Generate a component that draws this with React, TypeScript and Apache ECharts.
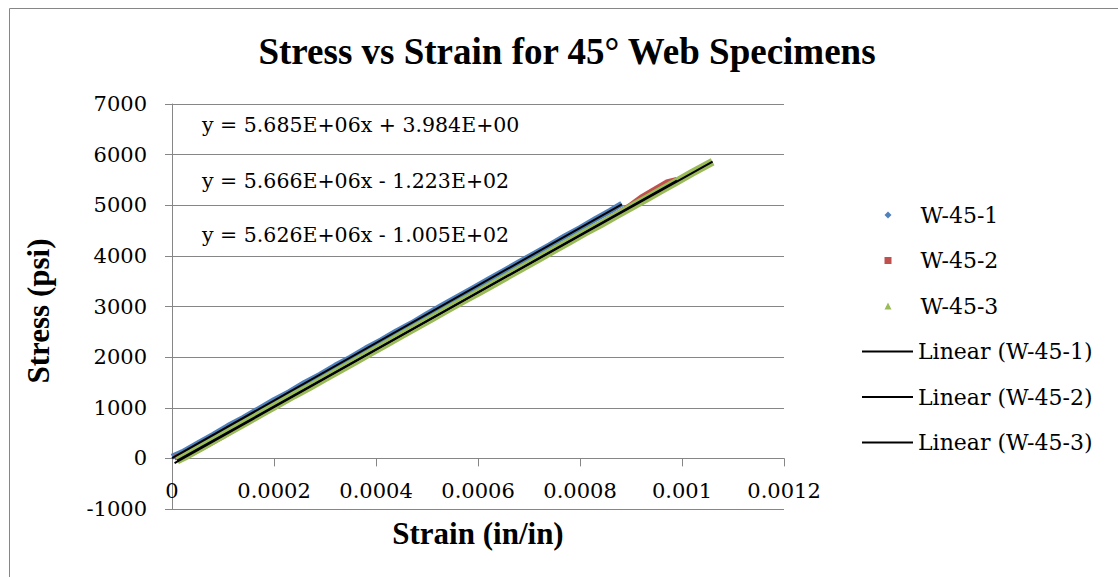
import React, { useEffect, useRef } from "react";
import * as echarts from "echarts";

// ---------- data ----------
const seriesNames = ["W-45-1", "W-45-2", "W-45-3"];
const trendNames = ["Linear (W-45-1)", "Linear (W-45-2)", "Linear (W-45-3)"];

const strain1 = [0, 0.00002, 0.00005, 0.00008, 0.00011, 0.00014, 0.00017, 0.0002, 0.00023, 0.00026, 0.00029, 0.00032, 0.00035, 0.00038, 0.00041, 0.00044, 0.00047, 0.0005, 0.00053, 0.00056, 0.00059, 0.00062, 0.00065, 0.00068, 0.00071, 0.00074, 0.00077, 0.0008, 0.00083, 0.00086, 0.000882];
const stress1 = [30, 120, 290, 460, 640, 800, 975, 1150, 1310, 1490, 1650, 1830, 1990, 2170, 2330, 2510, 2670, 2850, 3020, 3190, 3360, 3530, 3700, 3870, 4040, 4210, 4385, 4550, 4725, 4895, 5030];

const strain2 = [0.000005, 0.00002, 0.00004, 0.00007, 0.0001, 0.00013, 0.00016, 0.00019, 0.00022, 0.00025, 0.00028, 0.00031, 0.00034, 0.00037, 0.0004, 0.00043, 0.00046, 0.00049, 0.00052, 0.00055, 0.00058, 0.00061, 0.00064, 0.00067, 0.0007, 0.00073, 0.00076, 0.00079, 0.00082, 0.00085, 0.00088, 0.0009, 0.00092, 0.00095, 0.00097, 0.00099];
const stress2 = [20, 40, 110, 270, 440, 620, 790, 960, 1130, 1300, 1470, 1640, 1810, 1980, 2150, 2320, 2490, 2660, 2830, 3000, 3170, 3340, 3500, 3680, 3850, 4010, 4180, 4350, 4520, 4690, 4870, 5000, 5150, 5330, 5450, 5500];

const strain3 = [0.00001, 0.00003, 0.00006, 0.00009, 0.00012, 0.00015, 0.00018, 0.00021, 0.00024, 0.00027, 0.0003, 0.00033, 0.00036, 0.00039, 0.00042, 0.00045, 0.00048, 0.00051, 0.00054, 0.00057, 0.0006, 0.00063, 0.00066, 0.00069, 0.00072, 0.00075, 0.00078, 0.00081, 0.00084, 0.00087, 0.0009, 0.00093, 0.00096, 0.00099, 0.00102, 0.00106];
const stress3 = [-40, 60, 230, 400, 570, 740, 910, 1080, 1250, 1410, 1580, 1750, 1920, 2090, 2260, 2430, 2600, 2770, 2940, 3110, 3270, 3440, 3610, 3780, 3950, 4120, 4290, 4460, 4620, 4790, 4960, 5130, 5300, 5470, 5640, 5860];

const trendSlopes = [5.685e6, 5.666e6, 5.626e6];
const trendIntercepts = [3.984, -122.3, -100.5];
const equationLabels = [
  "y = 5.685E+06x + 3.984E+00",
  "y = 5.666E+06x - 1.223E+02",
  "y = 5.626E+06x - 1.005E+02",
];

const xMin = 0, xMax = 0.0012, xStep = 0.0002;
const yMin = -1000, yMax = 7000, yStep = 1000;

const colors = ["#4F81BD", "#C0504D", "#9BBB59"];
const bandWidths = [6, 6, 8];
const icons = ["diamond", "rect", "triangle"];
const BOLD_FONT = "Liberation Serif";
const TEXT_FONT = "DejaVu Serif";
const GRID = "#868686";

export default function App() {
  const ref = useRef<HTMLDivElement>(null);
  useEffect(() => {
    if (!ref.current) return;
    const chart = echarts.init(ref.current, undefined, { renderer: "svg" });
    const strains = [strain1, strain2, strain3];
    const stresses = [stress1, stress2, stress3];

    const dataSeries = seriesNames.map((name, i) => ({
      name,
      type: "line",
      data: strains[i].map((x, k) => [x, stresses[i][k]]),
      symbol: "none",
      lineStyle: { width: bandWidths[i], color: colors[i] },
      itemStyle: { color: colors[i] },
      z: 2 + i,
      silent: true,
    }));
    const trendSeries = trendNames.map((name, i) => {
      const xs = strains[i];
      const x0 = Math.min(...xs), x1 = Math.max(...xs);
      return {
        name,
        type: "line",
        data: [x0, x1].map((x) => [x, trendSlopes[i] * x + trendIntercepts[i]]),
        symbol: "none",
        lineStyle: { width: 2, color: "#000" },
        itemStyle: { color: "#000" },
        z: 10,
        silent: true,
      };
    });

    const legendText = { fontFamily: TEXT_FONT, fontSize: 22, color: "#000", lineHeight: 26 };

    chart.setOption({
      animation: false,
      textStyle: { fontFamily: TEXT_FONT },
      title: {
        text: "Stress vs Strain for 45° Web Specimens",
        left: 562,
        top: 28,
        textAlign: "center",
        textStyle: { fontFamily: BOLD_FONT, fontSize: 37, fontWeight: "bold", color: "#000" },
      },
      grid: { left: 172, right: 334, top: 104, bottom: 68, containLabel: false },
      xAxis: {
        type: "value",
        min: xMin,
        max: xMax,
        interval: xStep,
        axisLine: { show: true, onZero: true, lineStyle: { color: GRID, width: 1 } },
        axisTick: { show: true, length: 8, lineStyle: { color: GRID } },
        splitLine: { show: false },
        axisLabel: {
          margin: -29,
          fontSize: 21,
          color: "#000",
          fontFamily: TEXT_FONT,
          formatter: (v: number) => String(+v.toPrecision(6)),
        },
      },
      yAxis: {
        type: "value",
        min: yMin,
        max: yMax,
        interval: yStep,
        axisLine: { show: true, onZero: false, lineStyle: { color: GRID, width: 1 } },
        axisTick: { show: true, length: 7, lineStyle: { color: GRID } },
        splitLine: { show: true, lineStyle: { color: GRID, width: 1 } },
        axisLabel: {
          margin: 25,
          fontSize: 21,
          color: "#000",
          fontFamily: TEXT_FONT,
          formatter: (v: number) => String(v),
        },
      },
      legend: [
        {
          orient: "vertical",
          left: 884.5,
          top: 202,
          padding: 0,
          itemWidth: 7,
          itemHeight: 7,
          itemGap: 19.5,
          selectedMode: false,
          textStyle: { ...legendText, padding: [0, 0, 0, 24] },
          data: seriesNames.map((name, i) => ({
            name,
            icon: icons[i],
            itemStyle: { color: colors[i], borderWidth: 0 },
          })),
        },
        {
          orient: "vertical",
          left: 862,
          top: 338.5,
          padding: 0,
          itemWidth: 51,
          itemHeight: 2,
          itemGap: 19.5,
          selectedMode: false,
          textStyle: legendText,
          data: trendNames.map((name) => ({
            name,
            icon: "rect",
            itemStyle: { color: "#000", borderWidth: 0 },
          })),
        },
      ],
      graphic: [
        {
          type: "rect",
          shape: { x: 9.5, y: 8.5, width: 1200, height: 700 },
          style: { fill: "none", stroke: GRID, lineWidth: 1 },
          silent: true,
          z: -1,
        },
        {
          type: "text",
          x: 38,
          y: 311,
          rotation: Math.PI / 2,
          style: {
            text: "Stress (psi)",
            font: `bold 31px '${BOLD_FONT}'`,
            fill: "#000",
            align: "center",
            verticalAlign: "middle",
          },
        },
        {
          type: "text",
          x: 478,
          y: 533,
          style: {
            text: "Strain (in/in)",
            font: `bold 31px '${BOLD_FONT}'`,
            fill: "#000",
            align: "center",
            verticalAlign: "middle",
          },
        },
        ...equationLabels.map((t, i) => ({
          type: "text",
          x: 202,
          y: [125, 181, 235][i],
          style: {
            text: t,
            font: `20.5px '${TEXT_FONT}'`,
            fill: "#000",
            align: "left",
            verticalAlign: "middle",
          },
          z: 20,
        })),
      ],
      series: [...dataSeries, ...trendSeries],
    });
    return () => chart.dispose();
  }, []);
  return (
    <div
      ref={ref}
      style={{ position: "fixed", left: 0, top: 0, width: 1118, height: 577, background: "#fff" }}
    />
  );
}
